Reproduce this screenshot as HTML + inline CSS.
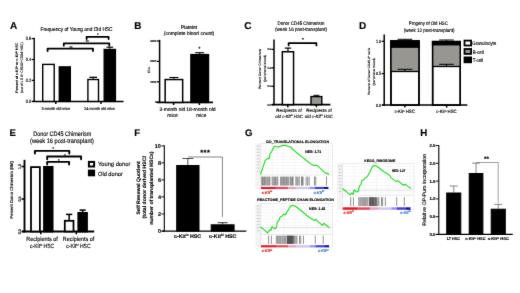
<!DOCTYPE html>
<html><head><meta charset="utf-8"><title>Figure</title>
<style>
html,body{margin:0;padding:0;background:#fff;}
body{width:520px;height:293px;overflow:hidden;font-family:"Liberation Sans",sans-serif;}
svg{display:block;}
</style></head><body>
<svg width="520" height="293" viewBox="0 0 520 293" font-family="Liberation Sans, sans-serif" text-rendering="geometricPrecision">
<defs><filter id="soft" filterUnits="userSpaceOnUse" x="0" y="0" width="520" height="293" color-interpolation-filters="sRGB"><feConvolveMatrix order="3" kernelMatrix="0.0052 0.0619 0.0052 0.0619 0.7314 0.0619 0.0052 0.0619 0.0052" divisor="1" edgeMode="duplicate" preserveAlpha="false"/></filter></defs>
<rect x="0" y="0" width="520" height="293" fill="#fff"/>
<g filter="url(#soft)">
<rect x="0" y="0" width="520" height="293" fill="#fff"/>
<text x="10" y="29.2" font-size="10" text-anchor="start" font-weight="bold" fill="#000" stroke="#000" stroke-width="0.14" >A</text>
<text x="76.5" y="30.6" font-size="5.6" text-anchor="middle" font-weight="normal" fill="#000" textLength="72" lengthAdjust="spacingAndGlyphs" stroke="#000" stroke-width="0.14" >Frequency of Young and Old HSC</text>
<line x1="34.2" y1="37.8" x2="34.2" y2="102.10000000000001" stroke="#000" stroke-width="1.4" stroke-linecap="butt"/>
<line x1="31.700000000000006" y1="38.6" x2="34.2" y2="38.6" stroke="#000" stroke-width="1.19" stroke-linecap="butt"/>
<text x="31.300000000000008" y="40.328" font-size="4.8" text-anchor="end" font-weight="normal" fill="#000" textLength="5.6" lengthAdjust="spacingAndGlyphs" stroke="#000" stroke-width="0.14" >0.6</text>
<line x1="31.700000000000006" y1="59.5" x2="34.2" y2="59.5" stroke="#000" stroke-width="1.19" stroke-linecap="butt"/>
<text x="31.300000000000008" y="61.228" font-size="4.8" text-anchor="end" font-weight="normal" fill="#000" textLength="5.6" lengthAdjust="spacingAndGlyphs" stroke="#000" stroke-width="0.14" >0.4</text>
<line x1="31.700000000000006" y1="80.4" x2="34.2" y2="80.4" stroke="#000" stroke-width="1.19" stroke-linecap="butt"/>
<text x="31.300000000000008" y="82.128" font-size="4.8" text-anchor="end" font-weight="normal" fill="#000" textLength="5.6" lengthAdjust="spacingAndGlyphs" stroke="#000" stroke-width="0.14" >0.2</text>
<line x1="31.700000000000006" y1="101.4" x2="34.2" y2="101.4" stroke="#000" stroke-width="1.19" stroke-linecap="butt"/>
<text x="31.300000000000008" y="103.128" font-size="4.8" text-anchor="end" font-weight="normal" fill="#000" textLength="5.6" lengthAdjust="spacingAndGlyphs" stroke="#000" stroke-width="0.14" >0.0</text>
<line x1="32.4" y1="101.4" x2="123.5" y2="101.4" stroke="#000" stroke-width="1.5" stroke-linecap="butt"/>
<line x1="55.8" y1="101.4" x2="55.8" y2="104.0" stroke="#000" stroke-width="1.5" stroke-linecap="butt"/>
<line x1="101" y1="101.4" x2="101" y2="104.0" stroke="#000" stroke-width="1.5" stroke-linecap="butt"/>
<rect x="42.7" y="64.4" width="11.499999999999998" height="37.0" fill="#fff" stroke="#000" stroke-width="1.4"/>
<rect x="59.300000000000004" y="66.9" width="10.999999999999998" height="34.5" fill="#000" stroke="#000" stroke-width="1.4"/>
<line x1="93.2" y1="77.3" x2="93.2" y2="78.8" stroke="#000" stroke-width="1.3" stroke-linecap="butt"/>
<line x1="89.4" y1="77.3" x2="97.0" y2="77.3" stroke="#000" stroke-width="1.3" stroke-linecap="butt"/>
<rect x="87.9" y="79.5" width="10.6" height="21.90000000000001" fill="#fff" stroke="#000" stroke-width="1.4"/>
<line x1="109.8" y1="47.2" x2="109.8" y2="48.8" stroke="#000" stroke-width="1.2" stroke-linecap="butt"/>
<line x1="106.5" y1="47.2" x2="113.1" y2="47.2" stroke="#000" stroke-width="1.2" stroke-linecap="butt"/>
<rect x="104.2" y="49.5" width="11.199999999999994" height="51.900000000000006" fill="#000" stroke="#000" stroke-width="1.4"/>
<path d="M47.6 51.0 L47.6 48.6 L93.0 48.6 L93.0 51.0" fill="none" stroke="#000" stroke-width="1.8" stroke-linejoin="round" stroke-linecap="round"/>
<path d="M63.8 45.699999999999996 L63.8 43.3 L109.3 43.3 L109.3 45.699999999999996" fill="none" stroke="#000" stroke-width="1.8" stroke-linejoin="round" stroke-linecap="round"/>
<path d="M86.6 39.099999999999994 L86.6 36.8 L108.6 36.8 L108.6 39.099999999999994" fill="none" stroke="#000" stroke-width="1.8" stroke-linejoin="round" stroke-linecap="round"/>
<text x="71.1" y="48.6" font-size="3.8" text-anchor="middle" font-weight="bold" fill="#000" stroke="#000" stroke-width="0.14" >**</text>
<text x="87.3" y="42.9" font-size="3.8" text-anchor="middle" font-weight="bold" fill="#000" stroke="#000" stroke-width="0.14" >**</text>
<text x="97.8" y="35.9" font-size="3.8" text-anchor="middle" font-weight="bold" fill="#000" stroke="#000" stroke-width="0.14" >*</text>
<text x="55.8" y="109.6" font-size="4" text-anchor="middle" font-weight="normal" fill="#000" textLength="28.8" lengthAdjust="spacingAndGlyphs" stroke="#000" stroke-width="0.14" >3-month old mice</text>
<text x="99.5" y="109.6" font-size="4" text-anchor="middle" font-weight="normal" fill="#000" textLength="30.8" lengthAdjust="spacingAndGlyphs" stroke="#000" stroke-width="0.14" >24-month old mice</text>
<text x="17.8" y="67.6" font-size="3.6" text-anchor="middle" font-weight="normal" fill="#000" textLength="50.3" lengthAdjust="spacingAndGlyphs" transform="rotate(-90 17.8 67.6)" stroke="#000" stroke-width="0.14" >Percent of c-Kit<tspan font-size="2.2" dy="-1">lo</tspan><tspan dy="1"> or c-Kit</tspan><tspan font-size="2.2" dy="-1">hi</tspan><tspan dy="1"> HSC</tspan></text>
<text x="22.8" y="67.6" font-size="3.6" text-anchor="middle" font-weight="normal" fill="#000" textLength="50.3" lengthAdjust="spacingAndGlyphs" transform="rotate(-90 22.8 67.6)" stroke="#000" stroke-width="0.14" >(out of L S K<tspan font-size="2.2" dy="-1">+</tspan><tspan dy="1"> CD150</tspan><tspan font-size="2.2" dy="-1">+</tspan><tspan dy="1"> CD34</tspan><tspan font-size="2.2" dy="-1">-</tspan><tspan dy="1"> HSC)</tspan></text>
<text x="134.3" y="29.1" font-size="10" text-anchor="start" font-weight="bold" fill="#000" stroke="#000" stroke-width="0.14" >B</text>
<text x="189" y="29" font-size="5" text-anchor="middle" font-weight="normal" fill="#000" textLength="16.5" lengthAdjust="spacingAndGlyphs" stroke="#000" stroke-width="0.14" >Platelet</text>
<text x="189" y="34.8" font-size="5" text-anchor="middle" font-weight="normal" fill="#000" textLength="50.5" lengthAdjust="spacingAndGlyphs" stroke="#000" stroke-width="0.14" >(complete blood count)</text>
<line x1="159.6" y1="39.85" x2="159.6" y2="103.15" stroke="#000" stroke-width="1.5" stroke-linecap="butt"/>
<line x1="156.85" y1="41.0" x2="159.6" y2="41.0" stroke="#000" stroke-width="1.275" stroke-linecap="butt"/>
<text x="156.45" y="42.008" font-size="2.8" text-anchor="end" font-weight="bold" fill="#000" stroke="#000" stroke-width="0.14" >3000</text>
<line x1="156.85" y1="61.4" x2="159.6" y2="61.4" stroke="#000" stroke-width="1.275" stroke-linecap="butt"/>
<text x="156.45" y="62.408" font-size="2.8" text-anchor="end" font-weight="bold" fill="#000" stroke="#000" stroke-width="0.14" >2000</text>
<line x1="156.85" y1="81.8" x2="159.6" y2="81.8" stroke="#000" stroke-width="1.275" stroke-linecap="butt"/>
<text x="156.45" y="82.80799999999999" font-size="2.8" text-anchor="end" font-weight="bold" fill="#000" stroke="#000" stroke-width="0.14" >1000</text>
<line x1="156.85" y1="102.3" x2="159.6" y2="102.3" stroke="#000" stroke-width="1.275" stroke-linecap="butt"/>
<text x="156.45" y="103.30799999999999" font-size="2.8" text-anchor="end" font-weight="bold" fill="#000" stroke="#000" stroke-width="0.14" >0</text>
<line x1="156.6" y1="102.4" x2="213" y2="102.4" stroke="#000" stroke-width="1.6" stroke-linecap="butt"/>
<line x1="173.6" y1="102.4" x2="173.6" y2="105.0" stroke="#000" stroke-width="1.5" stroke-linecap="butt"/>
<line x1="199.4" y1="102.4" x2="199.4" y2="105.0" stroke="#000" stroke-width="1.5" stroke-linecap="butt"/>
<line x1="173.9" y1="77.5" x2="173.9" y2="78.8" stroke="#000" stroke-width="1.1" stroke-linecap="butt"/>
<line x1="169.4" y1="77.5" x2="178.4" y2="77.5" stroke="#000" stroke-width="1.1" stroke-linecap="butt"/>
<rect x="165.15" y="79.55" width="17.5" height="22.85000000000001" fill="#fff" stroke="#000" stroke-width="1.5"/>
<line x1="199.7" y1="52.7" x2="199.7" y2="53.9" stroke="#000" stroke-width="1.1" stroke-linecap="butt"/>
<line x1="195.2" y1="52.7" x2="204.2" y2="52.7" stroke="#000" stroke-width="1.1" stroke-linecap="butt"/>
<rect x="190.95" y="54.65" width="17.5" height="47.75000000000001" fill="#000" stroke="#000" stroke-width="1.5"/>
<text x="199.4" y="50.2" font-size="4.6" text-anchor="middle" font-weight="bold" fill="#000" stroke="#000" stroke-width="0.14" >*</text>
<text x="172.3" y="110.7" font-size="5" text-anchor="middle" font-weight="normal" fill="#000" textLength="25.8" lengthAdjust="spacingAndGlyphs" stroke="#000" stroke-width="0.14" >3-month old</text>
<text x="172.6" y="116.7" font-size="5" text-anchor="middle" font-weight="normal" fill="#000" textLength="10.5" lengthAdjust="spacingAndGlyphs" stroke="#000" stroke-width="0.14" >mice</text>
<text x="200.9" y="110.7" font-size="5" text-anchor="middle" font-weight="normal" fill="#000" textLength="29.5" lengthAdjust="spacingAndGlyphs" stroke="#000" stroke-width="0.14" >18-month old</text>
<text x="201.3" y="116.7" font-size="5" text-anchor="middle" font-weight="normal" fill="#000" textLength="10.2" lengthAdjust="spacingAndGlyphs" stroke="#000" stroke-width="0.14" >mice</text>
<text x="150.1" y="70" font-size="3.2" text-anchor="middle" font-weight="normal" fill="#000" transform="rotate(-90 150.1 70)" stroke="#000" stroke-width="0.14" >K/uL</text>
<text x="244.3" y="29.1" font-size="10" text-anchor="start" font-weight="bold" fill="#000" stroke="#000" stroke-width="0.14" >C</text>
<text x="301" y="24.6" font-size="5" text-anchor="middle" font-weight="normal" fill="#000" textLength="47" lengthAdjust="spacingAndGlyphs" stroke="#000" stroke-width="0.14" >Donor CD45 Chimerism</text>
<text x="301" y="30.8" font-size="5" text-anchor="middle" font-weight="normal" fill="#000" textLength="52" lengthAdjust="spacingAndGlyphs" stroke="#000" stroke-width="0.14" >(week 16 post-transplant)</text>
<line x1="274.0" y1="39.55" x2="274.0" y2="105.35" stroke="#000" stroke-width="1.5" stroke-linecap="butt"/>
<line x1="271.25" y1="49.4" x2="274.0" y2="49.4" stroke="#000" stroke-width="1.275" stroke-linecap="butt"/>
<text x="270.85" y="50.408" font-size="2.8" text-anchor="end" font-weight="bold" fill="#000" textLength="3.4" lengthAdjust="spacingAndGlyphs" stroke="#000" stroke-width="0.14" >0.6</text>
<line x1="271.25" y1="67.9" x2="274.0" y2="67.9" stroke="#000" stroke-width="1.275" stroke-linecap="butt"/>
<text x="270.85" y="68.908" font-size="2.8" text-anchor="end" font-weight="bold" fill="#000" textLength="3.4" lengthAdjust="spacingAndGlyphs" stroke="#000" stroke-width="0.14" >0.4</text>
<line x1="271.25" y1="86.3" x2="274.0" y2="86.3" stroke="#000" stroke-width="1.275" stroke-linecap="butt"/>
<text x="270.85" y="87.30799999999999" font-size="2.8" text-anchor="end" font-weight="bold" fill="#000" textLength="3.4" lengthAdjust="spacingAndGlyphs" stroke="#000" stroke-width="0.14" >0.2</text>
<line x1="271.25" y1="104.7" x2="274.0" y2="104.7" stroke="#000" stroke-width="1.275" stroke-linecap="butt"/>
<text x="270.85" y="105.708" font-size="2.8" text-anchor="end" font-weight="bold" fill="#000" textLength="3.4" lengthAdjust="spacingAndGlyphs" stroke="#000" stroke-width="0.14" >0.0</text>
<line x1="271.8" y1="104.6" x2="330.4" y2="104.6" stroke="#000" stroke-width="1.7" stroke-linecap="butt"/>
<line x1="287.8" y1="104.6" x2="287.8" y2="107.19999999999999" stroke="#000" stroke-width="1.5" stroke-linecap="butt"/>
<line x1="316.4" y1="104.6" x2="316.4" y2="107.19999999999999" stroke="#000" stroke-width="1.5" stroke-linecap="butt"/>
<line x1="287.95000000000005" y1="48.1" x2="287.95000000000005" y2="51.0" stroke="#000" stroke-width="1.2" stroke-linecap="butt"/>
<line x1="284.75000000000006" y1="48.1" x2="291.15000000000003" y2="48.1" stroke="#000" stroke-width="1.2" stroke-linecap="butt"/>
<rect x="282.35" y="51.75" width="11.199999999999989" height="52.849999999999994" fill="#fff" stroke="#000" stroke-width="1.5"/>
<line x1="316.4" y1="95.3" x2="316.4" y2="95.9" stroke="#000" stroke-width="1.0" stroke-linecap="butt"/>
<line x1="313.4" y1="95.3" x2="319.4" y2="95.3" stroke="#000" stroke-width="1.0" stroke-linecap="butt"/>
<rect x="311.0" y="96.60000000000001" width="10.799999999999988" height="7.9999999999999885" fill="#989690" stroke="#000" stroke-width="1.4"/>
<path d="M288.6 45.4 L288.6 43.1 L316.4 43.1 L316.4 45.4" fill="none" stroke="#000" stroke-width="1.7" stroke-linejoin="round" stroke-linecap="round"/>
<text x="302.8" y="41.0" font-size="4.4" text-anchor="middle" font-weight="bold" fill="#000" stroke="#000" stroke-width="0.14" >*</text>
<text x="289.0" y="112" font-size="4.6" text-anchor="middle" font-weight="normal" fill="#000" textLength="25.3" lengthAdjust="spacingAndGlyphs" stroke="#000" stroke-width="0.14" >Recipients of</text>
<text x="289.1" y="117.8" font-size="4.6" text-anchor="middle" font-weight="normal" fill="#000" textLength="27.7" lengthAdjust="spacingAndGlyphs" stroke="#000" stroke-width="0.14" font-style="italic">old c-Kit<tspan font-size="2.6" dy="-1.4">lo</tspan><tspan dy="1.4"> HSC</tspan></text>
<text x="319.0" y="112" font-size="4.6" text-anchor="middle" font-weight="normal" fill="#000" textLength="25.3" lengthAdjust="spacingAndGlyphs" stroke="#000" stroke-width="0.14" >Recipients of</text>
<text x="318.9" y="117.8" font-size="4.6" text-anchor="middle" font-weight="normal" fill="#000" textLength="28.2" lengthAdjust="spacingAndGlyphs" stroke="#000" stroke-width="0.14" font-style="italic">old c-Kit<tspan font-size="2.6" dy="-1.4">hi</tspan><tspan dy="1.4"> HSC</tspan></text>
<text x="261.1" y="69" font-size="3.3" text-anchor="middle" font-weight="normal" fill="#000" textLength="40" lengthAdjust="spacingAndGlyphs" transform="rotate(-90 261.1 69)" stroke="#000" stroke-width="0.14" >Percent Donor Chimerism</text>
<text x="265.9" y="68.3" font-size="3.3" text-anchor="middle" font-weight="normal" fill="#000" textLength="27" lengthAdjust="spacingAndGlyphs" transform="rotate(-90 265.9 68.3)" stroke="#000" stroke-width="0.14" >(peripheral blood)</text>
<text x="358.9" y="29.3" font-size="10" text-anchor="start" font-weight="bold" fill="#000" stroke="#000" stroke-width="0.14" >D</text>
<text x="428.3" y="25.4" font-size="5.0" text-anchor="middle" font-weight="normal" fill="#000" textLength="38.9" lengthAdjust="spacingAndGlyphs" stroke="#000" stroke-width="0.14" >Progeny of Old HSC</text>
<text x="429.2" y="32" font-size="5.0" text-anchor="middle" font-weight="normal" fill="#000" textLength="50.8" lengthAdjust="spacingAndGlyphs" stroke="#000" stroke-width="0.14" >(week 12 post-transplant)</text>
<line x1="384.2" y1="34.45" x2="384.2" y2="105.75" stroke="#000" stroke-width="1.5" stroke-linecap="butt"/>
<line x1="381.65" y1="41.3" x2="384.2" y2="41.3" stroke="#000" stroke-width="1.275" stroke-linecap="butt"/>
<text x="381.25" y="42.955999999999996" font-size="4.6" text-anchor="end" font-weight="normal" fill="#000" textLength="5.3" lengthAdjust="spacingAndGlyphs" stroke="#000" stroke-width="0.14" >1.0</text>
<line x1="381.65" y1="73.6" x2="384.2" y2="73.6" stroke="#000" stroke-width="1.275" stroke-linecap="butt"/>
<text x="381.25" y="75.256" font-size="4.6" text-anchor="end" font-weight="normal" fill="#000" textLength="5.3" lengthAdjust="spacingAndGlyphs" stroke="#000" stroke-width="0.14" >0.5</text>
<line x1="381.65" y1="105" x2="384.2" y2="105" stroke="#000" stroke-width="1.275" stroke-linecap="butt"/>
<text x="381.25" y="106.656" font-size="4.6" text-anchor="end" font-weight="normal" fill="#000" textLength="5.3" lengthAdjust="spacingAndGlyphs" stroke="#000" stroke-width="0.14" >0.0</text>
<line x1="382.2" y1="105" x2="467.3" y2="105" stroke="#000" stroke-width="1.6" stroke-linecap="butt"/>
<line x1="404.9" y1="105" x2="404.9" y2="107.6" stroke="#000" stroke-width="1.5" stroke-linecap="butt"/>
<line x1="446.6" y1="105" x2="446.6" y2="107.6" stroke="#000" stroke-width="1.5" stroke-linecap="butt"/>
<rect x="390.95" y="41.05" width="28.0" height="63.95" fill="#fff" stroke="#000" stroke-width="1.5"/>
<rect x="390.95" y="47.9" width="28.0" height="23.6" fill="#989690" stroke="none" stroke-width="0"/>
<rect x="390.95" y="41.05" width="28.0" height="6.100000000000001" fill="#000" stroke="#000" stroke-width="1.5"/>
<line x1="390.2" y1="71.5" x2="419.7" y2="71.5" stroke="#000" stroke-width="1.3" stroke-linecap="butt"/>
<rect x="390.95" y="41.05" width="28.0" height="63.95" fill="none" stroke="#000" stroke-width="1.5"/>
<line x1="404.95" y1="69.3" x2="404.95" y2="71.5" stroke="#000" stroke-width="1.0" stroke-linecap="butt"/>
<line x1="397.65" y1="69.3" x2="412.25" y2="69.3" stroke="#000" stroke-width="1.0" stroke-linecap="butt"/>
<line x1="404.95" y1="39.3" x2="404.95" y2="40.3" stroke="#000" stroke-width="1.0" stroke-linecap="butt"/>
<line x1="397.65" y1="39.3" x2="412.25" y2="39.3" stroke="#000" stroke-width="1.0" stroke-linecap="butt"/>
<rect x="432.65" y="41.65" width="27.600000000000023" height="63.349999999999994" fill="#fff" stroke="#000" stroke-width="1.5"/>
<rect x="432.65" y="45.6" width="27.600000000000023" height="20.9" fill="#989690" stroke="none" stroke-width="0"/>
<rect x="432.65" y="41.65" width="27.600000000000023" height="3.200000000000003" fill="#000" stroke="#000" stroke-width="1.5"/>
<line x1="431.9" y1="66.5" x2="461.0" y2="66.5" stroke="#000" stroke-width="1.3" stroke-linecap="butt"/>
<rect x="432.65" y="41.65" width="27.600000000000023" height="63.349999999999994" fill="none" stroke="#000" stroke-width="1.5"/>
<line x1="446.45" y1="64.3" x2="446.45" y2="66.5" stroke="#000" stroke-width="1.0" stroke-linecap="butt"/>
<line x1="439.15" y1="64.3" x2="453.75" y2="64.3" stroke="#000" stroke-width="1.0" stroke-linecap="butt"/>
<line x1="446.45" y1="40.0" x2="446.45" y2="40.9" stroke="#000" stroke-width="1.0" stroke-linecap="butt"/>
<line x1="439.15" y1="40.0" x2="453.75" y2="40.0" stroke="#000" stroke-width="1.0" stroke-linecap="butt"/>
<rect x="464.5" y="40.6" width="6.6" height="4.9" fill="#fff" stroke="#000" stroke-width="1.8"/>
<text x="472.2" y="44.7" font-size="5.0" text-anchor="start" font-weight="normal" fill="#000" textLength="24" lengthAdjust="spacingAndGlyphs" stroke="#000" stroke-width="0.14" >Granulocyte</text>
<rect x="464.5" y="49.0" width="6.6" height="4.9" fill="#989690" stroke="#000" stroke-width="1.8"/>
<text x="472.7" y="53.9" font-size="5.0" text-anchor="start" font-weight="normal" fill="#000" textLength="11.0" lengthAdjust="spacingAndGlyphs" stroke="#000" stroke-width="0.14" >B-cell</text>
<rect x="464.5" y="57.400000000000006" width="6.6" height="4.9" fill="#000" stroke="#000" stroke-width="1.8"/>
<text x="472.7" y="62.1" font-size="5.0" text-anchor="start" font-weight="normal" fill="#000" textLength="10.4" lengthAdjust="spacingAndGlyphs" stroke="#000" stroke-width="0.14" >T-cell</text>
<text x="404.6" y="112.9" font-size="4.8" text-anchor="middle" font-weight="normal" fill="#000" textLength="20.3" lengthAdjust="spacingAndGlyphs" stroke="#000" stroke-width="0.14" >c-Kit<tspan font-size="2.4" dy="-1.3">lo</tspan><tspan dy="1.3"> HSC</tspan></text>
<text x="446.4" y="112.9" font-size="4.8" text-anchor="middle" font-weight="normal" fill="#000" textLength="20.3" lengthAdjust="spacingAndGlyphs" stroke="#000" stroke-width="0.14" >c-Kit<tspan font-size="2.4" dy="-1.3">hi</tspan><tspan dy="1.3"> HSC</tspan></text>
<text x="370.2" y="71.4" font-size="3.1" text-anchor="middle" font-weight="normal" fill="#000" textLength="47" lengthAdjust="spacingAndGlyphs" transform="rotate(-90 370.2 71.4)" stroke="#000" stroke-width="0.14" >Percent of Donor CD45.2<tspan font-size="2" dy="-0.8">+</tspan><tspan dy="0.8"> cells</tspan></text>
<text x="374.6" y="71.8" font-size="3.1" text-anchor="middle" font-weight="normal" fill="#000" textLength="27.2" lengthAdjust="spacingAndGlyphs" transform="rotate(-90 374.6 71.8)" stroke="#000" stroke-width="0.14" >(peripheral blood)</text>
<text x="9.6" y="136.2" font-size="9.6" text-anchor="start" font-weight="bold" fill="#000" stroke="#000" stroke-width="0.14" >E</text>
<text x="62.2" y="135.6" font-size="6.4" text-anchor="middle" font-weight="normal" fill="#000" textLength="58" lengthAdjust="spacingAndGlyphs" stroke="#000" stroke-width="0.14" >Donor CD45 Chimerism</text>
<text x="62" y="142.8" font-size="6.4" text-anchor="middle" font-weight="normal" fill="#000" textLength="64" lengthAdjust="spacingAndGlyphs" stroke="#000" stroke-width="0.14" >(week 16 post-transplant)</text>
<line x1="24.5" y1="159.85000000000002" x2="24.5" y2="232.45" stroke="#000" stroke-width="1.9" stroke-linecap="butt"/>
<line x1="21.55" y1="166.5" x2="24.5" y2="166.5" stroke="#000" stroke-width="1.615" stroke-linecap="butt"/>
<line x1="21.55" y1="199" x2="24.5" y2="199" stroke="#000" stroke-width="1.615" stroke-linecap="butt"/>
<line x1="21.55" y1="231.5" x2="24.5" y2="231.5" stroke="#000" stroke-width="1.615" stroke-linecap="butt"/>
<text x="20.9" y="166.4" font-size="3.9" text-anchor="middle" font-weight="normal" fill="#000" textLength="5" lengthAdjust="spacingAndGlyphs" transform="rotate(-90 20.9 166.4)" stroke="#000" stroke-width="0.14" >1.0</text>
<text x="20.9" y="199" font-size="3.9" text-anchor="middle" font-weight="normal" fill="#000" textLength="5" lengthAdjust="spacingAndGlyphs" transform="rotate(-90 20.9 199)" stroke="#000" stroke-width="0.14" >0.5</text>
<text x="20.9" y="231.7" font-size="3.9" text-anchor="middle" font-weight="normal" fill="#000" textLength="5" lengthAdjust="spacingAndGlyphs" transform="rotate(-90 20.9 231.7)" stroke="#000" stroke-width="0.14" >0.0</text>
<line x1="22.2" y1="231.5" x2="94.2" y2="231.5" stroke="#000" stroke-width="2.0" stroke-linecap="butt"/>
<line x1="40.8" y1="231.5" x2="40.8" y2="234.3" stroke="#000" stroke-width="1.6" stroke-linecap="butt"/>
<line x1="76.3" y1="231.5" x2="76.3" y2="234.3" stroke="#000" stroke-width="1.6" stroke-linecap="butt"/>
<rect x="31.0" y="167.1" width="8.899999999999995" height="64.4" fill="#fff" stroke="#000" stroke-width="1.8"/>
<rect x="44.0" y="166.9" width="8.599999999999998" height="64.6" fill="#000" stroke="#000" stroke-width="1.8"/>
<line x1="69.15" y1="214.4" x2="69.15" y2="219.9" stroke="#000" stroke-width="1.5" stroke-linecap="butt"/>
<line x1="66.05000000000001" y1="214.4" x2="72.25" y2="214.4" stroke="#000" stroke-width="1.5" stroke-linecap="butt"/>
<rect x="64.8" y="220.8" width="8.700000000000006" height="10.699999999999994" fill="#fff" stroke="#000" stroke-width="1.8"/>
<line x1="82.65" y1="210.1" x2="82.65" y2="212" stroke="#000" stroke-width="1.5" stroke-linecap="butt"/>
<line x1="79.55000000000001" y1="210.1" x2="85.75" y2="210.1" stroke="#000" stroke-width="1.5" stroke-linecap="butt"/>
<rect x="78.30000000000001" y="212.9" width="8.7" height="18.6" fill="#000" stroke="#000" stroke-width="1.8"/>
<path d="M34.9 153.6 L34.9 150.9 L69.3 150.9 L69.3 153.6" fill="none" stroke="#000" stroke-width="1.9" stroke-linejoin="round" stroke-linecap="round"/>
<path d="M47.2 159.3 L47.2 156.5 L81.1 156.5 L81.1 159.3" fill="none" stroke="#000" stroke-width="1.9" stroke-linejoin="round" stroke-linecap="round"/>
<path d="M47.2 164.6 L47.2 161.9 L69.1 161.9 L69.1 164.6" fill="none" stroke="#000" stroke-width="1.9" stroke-linejoin="round" stroke-linecap="round"/>
<text x="53.2" y="150.0" font-size="4" text-anchor="middle" font-weight="bold" fill="#000" stroke="#000" stroke-width="0.14" >*</text>
<text x="65.1" y="156.6" font-size="4" text-anchor="middle" font-weight="bold" fill="#000" stroke="#000" stroke-width="0.14" >*</text>
<text x="58.8" y="161.7" font-size="4" text-anchor="middle" font-weight="bold" fill="#000" stroke="#000" stroke-width="0.14" >*</text>
<rect x="88.9" y="161.9" width="5.2" height="4.6" fill="#fff" stroke="#000" stroke-width="2.0"/>
<rect x="88.9" y="170.6" width="5.2" height="4.7" fill="#000" stroke="#000" stroke-width="2.0"/>
<text x="98" y="166.3" font-size="6" text-anchor="start" font-weight="normal" fill="#000" textLength="32.3" lengthAdjust="spacingAndGlyphs" stroke="#000" stroke-width="0.14" >Young donor</text>
<text x="98" y="175.6" font-size="6" text-anchor="start" font-weight="normal" fill="#000" textLength="24.8" lengthAdjust="spacingAndGlyphs" stroke="#000" stroke-width="0.14" >Old donor</text>
<text x="42.1" y="240.8" font-size="6" text-anchor="middle" font-weight="normal" fill="#000" textLength="31.5" lengthAdjust="spacingAndGlyphs" stroke="#000" stroke-width="0.14" >Recipients of</text>
<text x="42.1" y="247.6" font-size="6" text-anchor="middle" font-weight="normal" fill="#000" textLength="24" lengthAdjust="spacingAndGlyphs" stroke="#000" stroke-width="0.14" >c-Kit<tspan font-size="3.2" dy="-1.8">lo</tspan><tspan dy="1.8"> HSC</tspan></text>
<text x="78.6" y="240.8" font-size="6" text-anchor="middle" font-weight="normal" fill="#000" textLength="31.5" lengthAdjust="spacingAndGlyphs" stroke="#000" stroke-width="0.14" >Recipients of</text>
<text x="78.5" y="247.6" font-size="6" text-anchor="middle" font-weight="normal" fill="#000" textLength="24.3" lengthAdjust="spacingAndGlyphs" stroke="#000" stroke-width="0.14" >c-Kit<tspan font-size="3.2" dy="-1.8">hi</tspan><tspan dy="1.8"> HSC</tspan></text>
<text x="13.5" y="189.8" font-size="4.2" text-anchor="middle" font-weight="normal" fill="#000" textLength="57.2" lengthAdjust="spacingAndGlyphs" transform="rotate(-90 13.5 189.8)" stroke="#000" stroke-width="0.14" >Percent Donor Chimerism (BM)</text>
<text x="134.2" y="135.9" font-size="9.6" text-anchor="start" font-weight="bold" fill="#000" stroke="#000" stroke-width="0.14" >F</text>
<line x1="164.3" y1="145.25" x2="164.3" y2="231.65" stroke="#000" stroke-width="1.1" stroke-linecap="butt"/>
<line x1="161.35" y1="145.9" x2="164.3" y2="145.9" stroke="#000" stroke-width="0.935" stroke-linecap="butt"/>
<text x="160.95" y="147.88" font-size="5.5" text-anchor="end" font-weight="bold" fill="#000" stroke="#000" stroke-width="0.14" >10</text>
<line x1="161.35" y1="162.9" x2="164.3" y2="162.9" stroke="#000" stroke-width="0.935" stroke-linecap="butt"/>
<text x="160.95" y="164.88" font-size="5.5" text-anchor="end" font-weight="bold" fill="#000" stroke="#000" stroke-width="0.14" >8</text>
<line x1="161.35" y1="179.9" x2="164.3" y2="179.9" stroke="#000" stroke-width="0.935" stroke-linecap="butt"/>
<text x="160.95" y="181.88" font-size="5.5" text-anchor="end" font-weight="bold" fill="#000" stroke="#000" stroke-width="0.14" >6</text>
<line x1="161.35" y1="196.9" x2="164.3" y2="196.9" stroke="#000" stroke-width="0.935" stroke-linecap="butt"/>
<text x="160.95" y="198.88" font-size="5.5" text-anchor="end" font-weight="bold" fill="#000" stroke="#000" stroke-width="0.14" >4</text>
<line x1="161.35" y1="214.0" x2="164.3" y2="214.0" stroke="#000" stroke-width="0.935" stroke-linecap="butt"/>
<text x="160.95" y="215.98" font-size="5.5" text-anchor="end" font-weight="bold" fill="#000" stroke="#000" stroke-width="0.14" >2</text>
<line x1="161.35" y1="231.1" x2="164.3" y2="231.1" stroke="#000" stroke-width="0.935" stroke-linecap="butt"/>
<text x="160.95" y="233.07999999999998" font-size="5.5" text-anchor="end" font-weight="bold" fill="#000" stroke="#000" stroke-width="0.14" >0</text>
<line x1="161.8" y1="231.1" x2="246.3" y2="231.1" stroke="#000" stroke-width="1.25" stroke-linecap="butt"/>
<line x1="187.85" y1="158.5" x2="187.85" y2="165" stroke="#000" stroke-width="0.7" stroke-linecap="butt"/>
<line x1="182.35" y1="158.5" x2="193.35" y2="158.5" stroke="#000" stroke-width="0.7" stroke-linecap="butt"/>
<rect x="176.7" y="165.5" width="22.30000000000001" height="65.6" fill="#000" stroke="#000" stroke-width="1.0"/>
<line x1="222.64999999999998" y1="222.7" x2="222.64999999999998" y2="224.3" stroke="#000" stroke-width="0.8" stroke-linecap="butt"/>
<line x1="217.64999999999998" y1="222.7" x2="227.64999999999998" y2="222.7" stroke="#000" stroke-width="0.8" stroke-linecap="butt"/>
<rect x="211.2" y="224.8" width="22.900000000000006" height="6.299999999999983" fill="#000" stroke="#000" stroke-width="1.0"/>
<path d="M188.2 157.0 L222.4 157.0 L222.4 217" fill="none" stroke="#222" stroke-width="0.55"/>
<text x="205.3" y="155.2" font-size="7.6" text-anchor="middle" font-weight="bold" fill="#000" stroke="#000" stroke-width="0.14" letter-spacing="0.4">***</text>
<text x="187.6" y="237.9" font-size="5.2" text-anchor="middle" font-weight="bold" fill="#000" textLength="27.2" lengthAdjust="spacingAndGlyphs" stroke="#000" stroke-width="0.14" >c-Kit<tspan font-size="3" dy="-1.7">lo</tspan><tspan dy="1.7"> HSC</tspan></text>
<text x="222.8" y="237.9" font-size="5.2" text-anchor="middle" font-weight="bold" fill="#000" textLength="27.4" lengthAdjust="spacingAndGlyphs" stroke="#000" stroke-width="0.14" >c-Kit<tspan font-size="3" dy="-1.7">hi</tspan><tspan dy="1.7"> HSC</tspan></text>
<text x="140.2" y="187.9" font-size="5.0" text-anchor="middle" font-weight="bold" fill="#000" textLength="53.4" lengthAdjust="spacingAndGlyphs" transform="rotate(-90 140.2 187.9)" stroke="#000" stroke-width="0.14" >Self Renewal Quotient</text>
<text x="146.3" y="187.3" font-size="5.0" text-anchor="middle" font-weight="bold" fill="#000" textLength="62.4" lengthAdjust="spacingAndGlyphs" transform="rotate(-90 146.3 187.3)" stroke="#000" stroke-width="0.14" >(total donor derived HSC/</text>
<text x="152.5" y="188.0" font-size="5.0" text-anchor="middle" font-weight="bold" fill="#000" textLength="73.1" lengthAdjust="spacingAndGlyphs" transform="rotate(-90 152.5 188.0)" stroke="#000" stroke-width="0.14" >number of transplanted HSCs)</text>
<text x="245.0" y="135.9" font-size="9.6" text-anchor="start" font-weight="bold" fill="#000" stroke="#000" stroke-width="0.14" >G</text>
<rect x="255.4" y="143.2" width="5.6" height="45.800000000000004" fill="#f3f3f3" stroke="none" stroke-width="0"/>
<rect x="261" y="143.6" width="71.60000000000002" height="45.400000000000006" fill="#fff" stroke="#cfcfcf" stroke-width="0.4"/>
<line x1="261" y1="175.0" x2="332.6" y2="175.0" stroke="#c4c4c4" stroke-width="0.4" stroke-linecap="butt"/>
<line x1="261" y1="146.74" x2="332.6" y2="146.74" stroke="#e0e0e0" stroke-width="0.25" stroke-linecap="butt"/>
<line x1="256.8" y1="146.14000000000001" x2="259.8" y2="146.14000000000001" stroke="#aaa" stroke-width="0.5" stroke-linecap="butt"/>
<line x1="261" y1="149.88" x2="332.6" y2="149.88" stroke="#e0e0e0" stroke-width="0.25" stroke-linecap="butt"/>
<line x1="256.8" y1="149.28" x2="259.8" y2="149.28" stroke="#aaa" stroke-width="0.5" stroke-linecap="butt"/>
<line x1="261" y1="153.01999999999998" x2="332.6" y2="153.01999999999998" stroke="#e0e0e0" stroke-width="0.25" stroke-linecap="butt"/>
<line x1="256.8" y1="152.42" x2="259.8" y2="152.42" stroke="#aaa" stroke-width="0.5" stroke-linecap="butt"/>
<line x1="261" y1="156.16" x2="332.6" y2="156.16" stroke="#e0e0e0" stroke-width="0.25" stroke-linecap="butt"/>
<line x1="256.8" y1="155.56" x2="259.8" y2="155.56" stroke="#aaa" stroke-width="0.5" stroke-linecap="butt"/>
<line x1="261" y1="159.3" x2="332.6" y2="159.3" stroke="#e0e0e0" stroke-width="0.25" stroke-linecap="butt"/>
<line x1="256.8" y1="158.70000000000002" x2="259.8" y2="158.70000000000002" stroke="#aaa" stroke-width="0.5" stroke-linecap="butt"/>
<line x1="261" y1="162.44" x2="332.6" y2="162.44" stroke="#e0e0e0" stroke-width="0.25" stroke-linecap="butt"/>
<line x1="256.8" y1="161.84" x2="259.8" y2="161.84" stroke="#aaa" stroke-width="0.5" stroke-linecap="butt"/>
<line x1="261" y1="165.57999999999998" x2="332.6" y2="165.57999999999998" stroke="#e0e0e0" stroke-width="0.25" stroke-linecap="butt"/>
<line x1="256.8" y1="164.98" x2="259.8" y2="164.98" stroke="#aaa" stroke-width="0.5" stroke-linecap="butt"/>
<line x1="261" y1="168.72" x2="332.6" y2="168.72" stroke="#e0e0e0" stroke-width="0.25" stroke-linecap="butt"/>
<line x1="256.8" y1="168.12" x2="259.8" y2="168.12" stroke="#aaa" stroke-width="0.5" stroke-linecap="butt"/>
<line x1="261" y1="171.85999999999999" x2="332.6" y2="171.85999999999999" stroke="#e0e0e0" stroke-width="0.25" stroke-linecap="butt"/>
<line x1="256.8" y1="171.26" x2="259.8" y2="171.26" stroke="#aaa" stroke-width="0.5" stroke-linecap="butt"/>
<line x1="272.2166666666667" y1="143.6" x2="272.2166666666667" y2="175.0" stroke="#e2e2e2" stroke-width="0.25" stroke-linecap="butt"/>
<line x1="283.43333333333334" y1="143.6" x2="283.43333333333334" y2="175.0" stroke="#e2e2e2" stroke-width="0.25" stroke-linecap="butt"/>
<line x1="294.65" y1="143.6" x2="294.65" y2="175.0" stroke="#e2e2e2" stroke-width="0.25" stroke-linecap="butt"/>
<line x1="305.8666666666667" y1="143.6" x2="305.8666666666667" y2="175.0" stroke="#e2e2e2" stroke-width="0.25" stroke-linecap="butt"/>
<line x1="317.08333333333337" y1="143.6" x2="317.08333333333337" y2="175.0" stroke="#e2e2e2" stroke-width="0.25" stroke-linecap="butt"/>
<line x1="328.3" y1="143.6" x2="328.3" y2="175.0" stroke="#e2e2e2" stroke-width="0.25" stroke-linecap="butt"/>
<path d="M260.8 173.9 L261.9 170.4 L263.4 165.9 L265.1 160.7 L266.4 159.4 L268.1 158.1 L269.0 159.0 L269.9 154.2 L271.6 151.7 L273.5 147.5 L274.8 146.2 L276.8 146.7 L278.5 147.1 L280.3 146.2 L282.6 145.4 L285.2 145.4 L288.4 146.2 L291.0 147.5 L294.3 150.6 L298.2 154.0 L302.0 156.9 L306.8 160.7 L311.4 164.4 L313.3 165.3 L316.6 165.3 L318.5 166.6 L322.4 170.4 L325.6 173.4 L326.9 173.0 L328.6 174.3" fill="none" stroke="#20e020" stroke-width="1.15" stroke-linejoin="round" stroke-linecap="round"/>
<line x1="261.77" y1="176.6" x2="261.77" y2="185.60000000000002" stroke="#000" stroke-width="0.44" stroke-linecap="butt"/>
<line x1="262.53" y1="176.6" x2="262.53" y2="185.60000000000002" stroke="#000" stroke-width="0.44" stroke-linecap="butt"/>
<line x1="263.75" y1="176.6" x2="263.75" y2="185.60000000000002" stroke="#000" stroke-width="0.44" stroke-linecap="butt"/>
<line x1="264.37" y1="176.6" x2="264.37" y2="185.60000000000002" stroke="#000" stroke-width="0.44" stroke-linecap="butt"/>
<line x1="265.59" y1="176.6" x2="265.59" y2="185.60000000000002" stroke="#000" stroke-width="0.44" stroke-linecap="butt"/>
<line x1="266.81" y1="176.6" x2="266.81" y2="185.60000000000002" stroke="#000" stroke-width="0.44" stroke-linecap="butt"/>
<line x1="267.88" y1="176.6" x2="267.88" y2="185.60000000000002" stroke="#000" stroke-width="0.44" stroke-linecap="butt"/>
<line x1="268.95" y1="176.6" x2="268.95" y2="185.60000000000002" stroke="#000" stroke-width="0.44" stroke-linecap="butt"/>
<line x1="269.87" y1="176.6" x2="269.87" y2="185.60000000000002" stroke="#000" stroke-width="0.44" stroke-linecap="butt"/>
<line x1="272.17" y1="176.6" x2="272.17" y2="185.60000000000002" stroke="#000" stroke-width="0.44" stroke-linecap="butt"/>
<line x1="273.24" y1="176.6" x2="273.24" y2="185.60000000000002" stroke="#000" stroke-width="0.44" stroke-linecap="butt"/>
<line x1="274.46" y1="176.6" x2="274.46" y2="185.60000000000002" stroke="#000" stroke-width="0.44" stroke-linecap="butt"/>
<line x1="275.53" y1="176.6" x2="275.53" y2="185.60000000000002" stroke="#000" stroke-width="0.44" stroke-linecap="butt"/>
<line x1="276.75" y1="176.6" x2="276.75" y2="185.60000000000002" stroke="#000" stroke-width="0.44" stroke-linecap="butt"/>
<line x1="277.82" y1="176.6" x2="277.82" y2="185.60000000000002" stroke="#000" stroke-width="0.44" stroke-linecap="butt"/>
<line x1="280.58" y1="176.6" x2="280.58" y2="185.60000000000002" stroke="#000" stroke-width="0.44" stroke-linecap="butt"/>
<line x1="281.65" y1="176.6" x2="281.65" y2="185.60000000000002" stroke="#000" stroke-width="0.44" stroke-linecap="butt"/>
<line x1="282.72" y1="176.6" x2="282.72" y2="185.60000000000002" stroke="#000" stroke-width="0.44" stroke-linecap="butt"/>
<line x1="283.64" y1="176.6" x2="283.64" y2="185.60000000000002" stroke="#000" stroke-width="0.44" stroke-linecap="butt"/>
<line x1="284.71" y1="176.6" x2="284.71" y2="185.60000000000002" stroke="#000" stroke-width="0.44" stroke-linecap="butt"/>
<line x1="285.78" y1="176.6" x2="285.78" y2="185.60000000000002" stroke="#000" stroke-width="0.44" stroke-linecap="butt"/>
<line x1="286.7" y1="176.6" x2="286.7" y2="185.60000000000002" stroke="#000" stroke-width="0.44" stroke-linecap="butt"/>
<line x1="287.77" y1="176.6" x2="287.77" y2="185.60000000000002" stroke="#000" stroke-width="0.44" stroke-linecap="butt"/>
<line x1="288.84" y1="176.6" x2="288.84" y2="185.60000000000002" stroke="#000" stroke-width="0.44" stroke-linecap="butt"/>
<line x1="290.37" y1="176.6" x2="290.37" y2="185.60000000000002" stroke="#000" stroke-width="0.44" stroke-linecap="butt"/>
<line x1="291.29" y1="176.6" x2="291.29" y2="185.60000000000002" stroke="#000" stroke-width="0.44" stroke-linecap="butt"/>
<line x1="292.36" y1="176.6" x2="292.36" y2="185.60000000000002" stroke="#000" stroke-width="0.44" stroke-linecap="butt"/>
<line x1="293.12" y1="176.6" x2="293.12" y2="185.60000000000002" stroke="#000" stroke-width="0.44" stroke-linecap="butt"/>
<line x1="295.87" y1="176.6" x2="295.87" y2="185.60000000000002" stroke="#000" stroke-width="0.44" stroke-linecap="butt"/>
<line x1="296.94" y1="176.6" x2="296.94" y2="185.60000000000002" stroke="#000" stroke-width="0.44" stroke-linecap="butt"/>
<line x1="298.01" y1="176.6" x2="298.01" y2="185.60000000000002" stroke="#000" stroke-width="0.44" stroke-linecap="butt"/>
<line x1="299.24" y1="176.6" x2="299.24" y2="185.60000000000002" stroke="#000" stroke-width="0.44" stroke-linecap="butt"/>
<line x1="301.53" y1="176.6" x2="301.53" y2="185.60000000000002" stroke="#000" stroke-width="0.44" stroke-linecap="butt"/>
<line x1="302.3" y1="176.6" x2="302.3" y2="185.60000000000002" stroke="#000" stroke-width="0.44" stroke-linecap="butt"/>
<line x1="303.06" y1="176.6" x2="303.06" y2="185.60000000000002" stroke="#000" stroke-width="0.44" stroke-linecap="butt"/>
<line x1="306.12" y1="176.6" x2="306.12" y2="185.60000000000002" stroke="#000" stroke-width="0.44" stroke-linecap="butt"/>
<line x1="307.65" y1="176.6" x2="307.65" y2="185.60000000000002" stroke="#000" stroke-width="0.44" stroke-linecap="butt"/>
<line x1="309.18" y1="176.6" x2="309.18" y2="185.60000000000002" stroke="#000" stroke-width="0.44" stroke-linecap="butt"/>
<line x1="314.54" y1="176.6" x2="314.54" y2="185.60000000000002" stroke="#000" stroke-width="0.44" stroke-linecap="butt"/>
<line x1="315.76" y1="176.6" x2="315.76" y2="185.60000000000002" stroke="#000" stroke-width="0.44" stroke-linecap="butt"/>
<line x1="326.46" y1="176.6" x2="326.46" y2="185.60000000000002" stroke="#000" stroke-width="0.44" stroke-linecap="butt"/>
<rect x="261.00" y="186.9" width="14.91" height="2.10" fill="#e61c26"/>
<rect x="275.81" y="186.9" width="12.21" height="2.10" fill="#ea4a5c"/>
<rect x="287.92" y="186.9" width="8.18" height="2.10" fill="#f09cc0"/>
<rect x="296.00" y="186.9" width="13.56" height="2.10" fill="#cfc6f2"/>
<rect x="309.46" y="186.9" width="5.48" height="2.10" fill="#9a94f0"/>
<rect x="314.84" y="186.9" width="8.85" height="2.10" fill="#4a3ee0"/>
<rect x="323.59" y="186.9" width="4.81" height="2.10" fill="#1010b4"/>
<text x="261.8" y="193.5" font-size="4.0" text-anchor="start" font-weight="bold" fill="#e01010" textLength="10.4" lengthAdjust="spacingAndGlyphs" stroke="#e01010" stroke-width="0.14" font-style="italic">c-Kit<tspan font-size="2.6" dy="-1.4">lo</tspan></text>
<text x="313.8" y="193.5" font-size="4.0" text-anchor="start" font-weight="bold" fill="#1a78c8" textLength="10.4" lengthAdjust="spacingAndGlyphs" stroke="#1a78c8" stroke-width="0.14" font-style="italic">c-Kit<tspan font-size="2.6" dy="-1.4">hi</tspan></text>
<text x="297.5" y="142.6" font-size="3.7" text-anchor="middle" font-weight="bold" fill="#000" textLength="63" lengthAdjust="spacingAndGlyphs" stroke="#000" stroke-width="0.14" >GO_TRANSLATIONAL ELONGATION</text>
<text x="305.2" y="152.7" font-size="3.8" text-anchor="start" font-weight="bold" fill="#000" textLength="16" lengthAdjust="spacingAndGlyphs" stroke="#000" stroke-width="0.14" >NES: 1.71</text>
<rect x="337.2" y="163.0" width="5.6" height="46.800000000000004" fill="#f3f3f3" stroke="none" stroke-width="0"/>
<rect x="342.8" y="163.4" width="71.19999999999999" height="46.400000000000006" fill="#fff" stroke="#cfcfcf" stroke-width="0.4"/>
<line x1="342.8" y1="195.2" x2="414" y2="195.2" stroke="#c4c4c4" stroke-width="0.4" stroke-linecap="butt"/>
<line x1="342.8" y1="166.58" x2="414" y2="166.58" stroke="#e0e0e0" stroke-width="0.25" stroke-linecap="butt"/>
<line x1="338.6" y1="165.98000000000002" x2="341.6" y2="165.98000000000002" stroke="#aaa" stroke-width="0.5" stroke-linecap="butt"/>
<line x1="342.8" y1="169.76" x2="414" y2="169.76" stroke="#e0e0e0" stroke-width="0.25" stroke-linecap="butt"/>
<line x1="338.6" y1="169.16" x2="341.6" y2="169.16" stroke="#aaa" stroke-width="0.5" stroke-linecap="butt"/>
<line x1="342.8" y1="172.94" x2="414" y2="172.94" stroke="#e0e0e0" stroke-width="0.25" stroke-linecap="butt"/>
<line x1="338.6" y1="172.34" x2="341.6" y2="172.34" stroke="#aaa" stroke-width="0.5" stroke-linecap="butt"/>
<line x1="342.8" y1="176.12" x2="414" y2="176.12" stroke="#e0e0e0" stroke-width="0.25" stroke-linecap="butt"/>
<line x1="338.6" y1="175.52" x2="341.6" y2="175.52" stroke="#aaa" stroke-width="0.5" stroke-linecap="butt"/>
<line x1="342.8" y1="179.3" x2="414" y2="179.3" stroke="#e0e0e0" stroke-width="0.25" stroke-linecap="butt"/>
<line x1="338.6" y1="178.70000000000002" x2="341.6" y2="178.70000000000002" stroke="#aaa" stroke-width="0.5" stroke-linecap="butt"/>
<line x1="342.8" y1="182.48" x2="414" y2="182.48" stroke="#e0e0e0" stroke-width="0.25" stroke-linecap="butt"/>
<line x1="338.6" y1="181.88" x2="341.6" y2="181.88" stroke="#aaa" stroke-width="0.5" stroke-linecap="butt"/>
<line x1="342.8" y1="185.66" x2="414" y2="185.66" stroke="#e0e0e0" stroke-width="0.25" stroke-linecap="butt"/>
<line x1="338.6" y1="185.06" x2="341.6" y2="185.06" stroke="#aaa" stroke-width="0.5" stroke-linecap="butt"/>
<line x1="342.8" y1="188.84" x2="414" y2="188.84" stroke="#e0e0e0" stroke-width="0.25" stroke-linecap="butt"/>
<line x1="338.6" y1="188.24" x2="341.6" y2="188.24" stroke="#aaa" stroke-width="0.5" stroke-linecap="butt"/>
<line x1="342.8" y1="192.01999999999998" x2="414" y2="192.01999999999998" stroke="#e0e0e0" stroke-width="0.25" stroke-linecap="butt"/>
<line x1="338.6" y1="191.42" x2="341.6" y2="191.42" stroke="#aaa" stroke-width="0.5" stroke-linecap="butt"/>
<line x1="354.06666666666666" y1="163.4" x2="354.06666666666666" y2="195.2" stroke="#e2e2e2" stroke-width="0.25" stroke-linecap="butt"/>
<line x1="365.3333333333333" y1="163.4" x2="365.3333333333333" y2="195.2" stroke="#e2e2e2" stroke-width="0.25" stroke-linecap="butt"/>
<line x1="376.6" y1="163.4" x2="376.6" y2="195.2" stroke="#e2e2e2" stroke-width="0.25" stroke-linecap="butt"/>
<line x1="387.8666666666667" y1="163.4" x2="387.8666666666667" y2="195.2" stroke="#e2e2e2" stroke-width="0.25" stroke-linecap="butt"/>
<line x1="399.1333333333333" y1="163.4" x2="399.1333333333333" y2="195.2" stroke="#e2e2e2" stroke-width="0.25" stroke-linecap="butt"/>
<line x1="410.4" y1="163.4" x2="410.4" y2="195.2" stroke="#e2e2e2" stroke-width="0.25" stroke-linecap="butt"/>
<line x1="342.8" y1="190.2" x2="414" y2="190.2" stroke="#aaa" stroke-width="0.3" stroke-linecap="butt"/>
<path d="M342.8 188.8 L346.5 191.7 L349.7 194.7 L351.0 193.9 L351.9 193.0 L353.0 194.3 L354.0 190.1 L355.5 191.1 L356.8 192.1 L358.4 191.1 L359.4 185.9 L360.7 184.9 L362.0 180.7 L364.0 179.4 L365.6 177.5 L367.2 176.8 L368.8 174.0 L370.4 171.0 L372.1 167.1 L373.7 165.4 L376.9 166.2 L378.9 167.8 L384.0 171.7 L389.9 175.5 L391.2 177.9 L396.3 181.6 L397.7 180.6 L403.5 185.3 L405.1 184.1 L407.6 186.1 L410.6 188.4" fill="none" stroke="#20e020" stroke-width="1.15" stroke-linejoin="round" stroke-linecap="round"/>
<line x1="350.7" y1="197.2" x2="350.7" y2="206.10000000000002" stroke="#000" stroke-width="0.44" stroke-linecap="butt"/>
<line x1="353.43" y1="197.2" x2="353.43" y2="206.10000000000002" stroke="#000" stroke-width="0.44" stroke-linecap="butt"/>
<line x1="358.75" y1="197.2" x2="358.75" y2="206.10000000000002" stroke="#000" stroke-width="0.44" stroke-linecap="butt"/>
<line x1="359.96" y1="197.2" x2="359.96" y2="206.10000000000002" stroke="#000" stroke-width="0.44" stroke-linecap="butt"/>
<line x1="361.03" y1="197.2" x2="361.03" y2="206.10000000000002" stroke="#000" stroke-width="0.44" stroke-linecap="butt"/>
<line x1="362.24" y1="197.2" x2="362.24" y2="206.10000000000002" stroke="#000" stroke-width="0.44" stroke-linecap="butt"/>
<line x1="363.31" y1="197.2" x2="363.31" y2="206.10000000000002" stroke="#000" stroke-width="0.44" stroke-linecap="butt"/>
<line x1="364.37" y1="197.2" x2="364.37" y2="206.10000000000002" stroke="#000" stroke-width="0.44" stroke-linecap="butt"/>
<line x1="365.59" y1="197.2" x2="365.59" y2="206.10000000000002" stroke="#000" stroke-width="0.44" stroke-linecap="butt"/>
<line x1="366.8" y1="197.2" x2="366.8" y2="206.10000000000002" stroke="#000" stroke-width="0.44" stroke-linecap="butt"/>
<line x1="367.87" y1="197.2" x2="367.87" y2="206.10000000000002" stroke="#000" stroke-width="0.44" stroke-linecap="butt"/>
<line x1="369.39" y1="197.2" x2="369.39" y2="206.10000000000002" stroke="#000" stroke-width="0.44" stroke-linecap="butt"/>
<line x1="369.84" y1="197.2" x2="369.84" y2="206.10000000000002" stroke="#000" stroke-width="0.44" stroke-linecap="butt"/>
<line x1="370.45" y1="197.2" x2="370.45" y2="206.10000000000002" stroke="#000" stroke-width="0.44" stroke-linecap="butt"/>
<line x1="370.9" y1="197.2" x2="370.9" y2="206.10000000000002" stroke="#000" stroke-width="0.44" stroke-linecap="butt"/>
<line x1="371.36" y1="197.2" x2="371.36" y2="206.10000000000002" stroke="#000" stroke-width="0.44" stroke-linecap="butt"/>
<line x1="371.97" y1="197.2" x2="371.97" y2="206.10000000000002" stroke="#000" stroke-width="0.44" stroke-linecap="butt"/>
<line x1="372.57" y1="197.2" x2="372.57" y2="206.10000000000002" stroke="#000" stroke-width="0.44" stroke-linecap="butt"/>
<line x1="373.03" y1="197.2" x2="373.03" y2="206.10000000000002" stroke="#000" stroke-width="0.44" stroke-linecap="butt"/>
<line x1="373.48" y1="197.2" x2="373.48" y2="206.10000000000002" stroke="#000" stroke-width="0.44" stroke-linecap="butt"/>
<line x1="374.09" y1="197.2" x2="374.09" y2="206.10000000000002" stroke="#000" stroke-width="0.44" stroke-linecap="butt"/>
<line x1="374.7" y1="197.2" x2="374.7" y2="206.10000000000002" stroke="#000" stroke-width="0.44" stroke-linecap="butt"/>
<line x1="375.46" y1="197.2" x2="375.46" y2="206.10000000000002" stroke="#000" stroke-width="0.44" stroke-linecap="butt"/>
<line x1="375.92" y1="197.2" x2="375.92" y2="206.10000000000002" stroke="#000" stroke-width="0.44" stroke-linecap="butt"/>
<line x1="376.53" y1="197.2" x2="376.53" y2="206.10000000000002" stroke="#000" stroke-width="0.44" stroke-linecap="butt"/>
<line x1="377.74" y1="197.2" x2="377.74" y2="206.10000000000002" stroke="#000" stroke-width="0.44" stroke-linecap="butt"/>
<line x1="378.95" y1="197.2" x2="378.95" y2="206.10000000000002" stroke="#000" stroke-width="0.44" stroke-linecap="butt"/>
<line x1="381.53" y1="197.2" x2="381.53" y2="206.10000000000002" stroke="#000" stroke-width="0.44" stroke-linecap="butt"/>
<line x1="382.6" y1="197.2" x2="382.6" y2="206.10000000000002" stroke="#000" stroke-width="0.44" stroke-linecap="butt"/>
<line x1="385.33" y1="197.2" x2="385.33" y2="206.10000000000002" stroke="#000" stroke-width="0.44" stroke-linecap="butt"/>
<line x1="396.73" y1="197.2" x2="396.73" y2="206.10000000000002" stroke="#000" stroke-width="0.44" stroke-linecap="butt"/>
<line x1="404.32" y1="197.2" x2="404.32" y2="206.10000000000002" stroke="#000" stroke-width="0.44" stroke-linecap="butt"/>
<rect x="342.80" y="207.3" width="14.97" height="2.50" fill="#e61c26"/>
<rect x="357.67" y="207.3" width="12.27" height="2.50" fill="#ea4a5c"/>
<rect x="369.84" y="207.3" width="8.21" height="2.50" fill="#f09cc0"/>
<rect x="377.95" y="207.3" width="13.62" height="2.50" fill="#cfc6f2"/>
<rect x="391.47" y="207.3" width="5.51" height="2.50" fill="#9a94f0"/>
<rect x="396.88" y="207.3" width="8.89" height="2.50" fill="#4a3ee0"/>
<rect x="405.67" y="207.3" width="4.83" height="2.50" fill="#1010b4"/>
<text x="343.6" y="213.8" font-size="4.0" text-anchor="start" font-weight="bold" fill="#e01010" textLength="10.4" lengthAdjust="spacingAndGlyphs" stroke="#e01010" stroke-width="0.14" font-style="italic">c-Kit<tspan font-size="2.6" dy="-1.4">lo</tspan></text>
<text x="400.2" y="213.8" font-size="4.0" text-anchor="start" font-weight="bold" fill="#1a78c8" textLength="10.4" lengthAdjust="spacingAndGlyphs" stroke="#1a78c8" stroke-width="0.14" font-style="italic">c-Kit<tspan font-size="2.6" dy="-1.4">hi</tspan></text>
<text x="379.8" y="162" font-size="3.7" text-anchor="middle" font-weight="bold" fill="#000" textLength="31" lengthAdjust="spacingAndGlyphs" stroke="#000" stroke-width="0.14" >KEGG_RIBOSOME</text>
<text x="391.9" y="172.4" font-size="3.8" text-anchor="start" font-weight="bold" fill="#000" textLength="13.4" lengthAdjust="spacingAndGlyphs" stroke="#000" stroke-width="0.14" >NES: 1.47</text>
<rect x="255.4" y="203.2" width="5.6" height="44.100000000000016" fill="#f3f3f3" stroke="none" stroke-width="0"/>
<rect x="261" y="203.6" width="71.30000000000001" height="43.70000000000002" fill="#fff" stroke="#cfcfcf" stroke-width="0.4"/>
<line x1="261" y1="234.4" x2="332.3" y2="234.4" stroke="#c4c4c4" stroke-width="0.4" stroke-linecap="butt"/>
<line x1="261" y1="206.68" x2="332.3" y2="206.68" stroke="#e0e0e0" stroke-width="0.25" stroke-linecap="butt"/>
<line x1="256.8" y1="206.08" x2="259.8" y2="206.08" stroke="#aaa" stroke-width="0.5" stroke-linecap="butt"/>
<line x1="261" y1="209.76" x2="332.3" y2="209.76" stroke="#e0e0e0" stroke-width="0.25" stroke-linecap="butt"/>
<line x1="256.8" y1="209.16" x2="259.8" y2="209.16" stroke="#aaa" stroke-width="0.5" stroke-linecap="butt"/>
<line x1="261" y1="212.84" x2="332.3" y2="212.84" stroke="#e0e0e0" stroke-width="0.25" stroke-linecap="butt"/>
<line x1="256.8" y1="212.24" x2="259.8" y2="212.24" stroke="#aaa" stroke-width="0.5" stroke-linecap="butt"/>
<line x1="261" y1="215.92" x2="332.3" y2="215.92" stroke="#e0e0e0" stroke-width="0.25" stroke-linecap="butt"/>
<line x1="256.8" y1="215.32" x2="259.8" y2="215.32" stroke="#aaa" stroke-width="0.5" stroke-linecap="butt"/>
<line x1="261" y1="219.0" x2="332.3" y2="219.0" stroke="#e0e0e0" stroke-width="0.25" stroke-linecap="butt"/>
<line x1="256.8" y1="218.4" x2="259.8" y2="218.4" stroke="#aaa" stroke-width="0.5" stroke-linecap="butt"/>
<line x1="261" y1="222.08" x2="332.3" y2="222.08" stroke="#e0e0e0" stroke-width="0.25" stroke-linecap="butt"/>
<line x1="256.8" y1="221.48000000000002" x2="259.8" y2="221.48000000000002" stroke="#aaa" stroke-width="0.5" stroke-linecap="butt"/>
<line x1="261" y1="225.16" x2="332.3" y2="225.16" stroke="#e0e0e0" stroke-width="0.25" stroke-linecap="butt"/>
<line x1="256.8" y1="224.56" x2="259.8" y2="224.56" stroke="#aaa" stroke-width="0.5" stroke-linecap="butt"/>
<line x1="261" y1="228.24" x2="332.3" y2="228.24" stroke="#e0e0e0" stroke-width="0.25" stroke-linecap="butt"/>
<line x1="256.8" y1="227.64000000000001" x2="259.8" y2="227.64000000000001" stroke="#aaa" stroke-width="0.5" stroke-linecap="butt"/>
<line x1="261" y1="231.32" x2="332.3" y2="231.32" stroke="#e0e0e0" stroke-width="0.25" stroke-linecap="butt"/>
<line x1="256.8" y1="230.72" x2="259.8" y2="230.72" stroke="#aaa" stroke-width="0.5" stroke-linecap="butt"/>
<line x1="272.3333333333333" y1="203.6" x2="272.3333333333333" y2="234.4" stroke="#e2e2e2" stroke-width="0.25" stroke-linecap="butt"/>
<line x1="283.6666666666667" y1="203.6" x2="283.6666666666667" y2="234.4" stroke="#e2e2e2" stroke-width="0.25" stroke-linecap="butt"/>
<line x1="295.0" y1="203.6" x2="295.0" y2="234.4" stroke="#e2e2e2" stroke-width="0.25" stroke-linecap="butt"/>
<line x1="306.3333333333333" y1="203.6" x2="306.3333333333333" y2="234.4" stroke="#e2e2e2" stroke-width="0.25" stroke-linecap="butt"/>
<line x1="317.6666666666667" y1="203.6" x2="317.6666666666667" y2="234.4" stroke="#e2e2e2" stroke-width="0.25" stroke-linecap="butt"/>
<line x1="329.0" y1="203.6" x2="329.0" y2="234.4" stroke="#e2e2e2" stroke-width="0.25" stroke-linecap="butt"/>
<line x1="261" y1="227.6" x2="332.3" y2="227.6" stroke="#aaa" stroke-width="0.3" stroke-linecap="butt"/>
<path d="M260.8 227.2 L264.5 230.1 L267.7 233.0 L269.4 230.4 L270.3 229.5 L271.0 230.1 L272.0 226.6 L273.5 227.8 L274.8 228.8 L276.4 227.5 L277.4 222.0 L278.7 220.7 L280.3 216.8 L282.0 216.2 L283.6 214.0 L285.2 214.9 L286.8 212.3 L288.4 209.7 L290.4 206.5 L291.9 205.4 L294.7 205.8 L297.8 208.0 L303.0 212.3 L309.4 217.5 L314.6 220.5 L315.9 219.4 L317.8 221.4 L322.4 225.3 L323.9 223.3 L326.3 225.3 L329.1 227.5" fill="none" stroke="#20e020" stroke-width="1.15" stroke-linejoin="round" stroke-linecap="round"/>
<line x1="268.64" y1="235.6" x2="268.64" y2="243.9" stroke="#000" stroke-width="0.44" stroke-linecap="butt"/>
<line x1="271.39" y1="235.6" x2="271.39" y2="243.9" stroke="#000" stroke-width="0.44" stroke-linecap="butt"/>
<line x1="276.28" y1="235.6" x2="276.28" y2="243.9" stroke="#000" stroke-width="0.44" stroke-linecap="butt"/>
<line x1="277.5" y1="235.6" x2="277.5" y2="243.9" stroke="#000" stroke-width="0.44" stroke-linecap="butt"/>
<line x1="278.73" y1="235.6" x2="278.73" y2="243.9" stroke="#000" stroke-width="0.44" stroke-linecap="butt"/>
<line x1="279.8" y1="235.6" x2="279.8" y2="243.9" stroke="#000" stroke-width="0.44" stroke-linecap="butt"/>
<line x1="280.86" y1="235.6" x2="280.86" y2="243.9" stroke="#000" stroke-width="0.44" stroke-linecap="butt"/>
<line x1="282.09" y1="235.6" x2="282.09" y2="243.9" stroke="#000" stroke-width="0.44" stroke-linecap="butt"/>
<line x1="283.15" y1="235.6" x2="283.15" y2="243.9" stroke="#000" stroke-width="0.44" stroke-linecap="butt"/>
<line x1="284.38" y1="235.6" x2="284.38" y2="243.9" stroke="#000" stroke-width="0.44" stroke-linecap="butt"/>
<line x1="285.45" y1="235.6" x2="285.45" y2="243.9" stroke="#000" stroke-width="0.44" stroke-linecap="butt"/>
<line x1="286.98" y1="235.6" x2="286.98" y2="243.9" stroke="#000" stroke-width="0.44" stroke-linecap="butt"/>
<line x1="287.44" y1="235.6" x2="287.44" y2="243.9" stroke="#000" stroke-width="0.44" stroke-linecap="butt"/>
<line x1="287.89" y1="235.6" x2="287.89" y2="243.9" stroke="#000" stroke-width="0.44" stroke-linecap="butt"/>
<line x1="288.35" y1="235.6" x2="288.35" y2="243.9" stroke="#000" stroke-width="0.44" stroke-linecap="butt"/>
<line x1="288.81" y1="235.6" x2="288.81" y2="243.9" stroke="#000" stroke-width="0.44" stroke-linecap="butt"/>
<line x1="289.27" y1="235.6" x2="289.27" y2="243.9" stroke="#000" stroke-width="0.44" stroke-linecap="butt"/>
<line x1="289.73" y1="235.6" x2="289.73" y2="243.9" stroke="#000" stroke-width="0.44" stroke-linecap="butt"/>
<line x1="290.19" y1="235.6" x2="290.19" y2="243.9" stroke="#000" stroke-width="0.44" stroke-linecap="butt"/>
<line x1="290.65" y1="235.6" x2="290.65" y2="243.9" stroke="#000" stroke-width="0.44" stroke-linecap="butt"/>
<line x1="291.1" y1="235.6" x2="291.1" y2="243.9" stroke="#000" stroke-width="0.44" stroke-linecap="butt"/>
<line x1="291.56" y1="235.6" x2="291.56" y2="243.9" stroke="#000" stroke-width="0.44" stroke-linecap="butt"/>
<line x1="292.02" y1="235.6" x2="292.02" y2="243.9" stroke="#000" stroke-width="0.44" stroke-linecap="butt"/>
<line x1="292.48" y1="235.6" x2="292.48" y2="243.9" stroke="#000" stroke-width="0.44" stroke-linecap="butt"/>
<line x1="293.09" y1="235.6" x2="293.09" y2="243.9" stroke="#000" stroke-width="0.44" stroke-linecap="butt"/>
<line x1="293.55" y1="235.6" x2="293.55" y2="243.9" stroke="#000" stroke-width="0.44" stroke-linecap="butt"/>
<line x1="294.62" y1="235.6" x2="294.62" y2="243.9" stroke="#000" stroke-width="0.44" stroke-linecap="butt"/>
<line x1="295.84" y1="235.6" x2="295.84" y2="243.9" stroke="#000" stroke-width="0.44" stroke-linecap="butt"/>
<line x1="296.91" y1="235.6" x2="296.91" y2="243.9" stroke="#000" stroke-width="0.44" stroke-linecap="butt"/>
<line x1="299.51" y1="235.6" x2="299.51" y2="243.9" stroke="#000" stroke-width="0.44" stroke-linecap="butt"/>
<line x1="300.73" y1="235.6" x2="300.73" y2="243.9" stroke="#000" stroke-width="0.44" stroke-linecap="butt"/>
<line x1="303.48" y1="235.6" x2="303.48" y2="243.9" stroke="#000" stroke-width="0.44" stroke-linecap="butt"/>
<line x1="315.25" y1="235.6" x2="315.25" y2="243.9" stroke="#000" stroke-width="0.44" stroke-linecap="butt"/>
<line x1="323.19" y1="235.6" x2="323.19" y2="243.9" stroke="#000" stroke-width="0.44" stroke-linecap="butt"/>
<rect x="261.00" y="245.2" width="15.06" height="2.10" fill="#e61c26"/>
<rect x="275.96" y="245.2" width="12.34" height="2.10" fill="#ea4a5c"/>
<rect x="288.20" y="245.2" width="8.26" height="2.10" fill="#f09cc0"/>
<rect x="296.36" y="245.2" width="13.70" height="2.10" fill="#cfc6f2"/>
<rect x="309.96" y="245.2" width="5.54" height="2.10" fill="#9a94f0"/>
<rect x="315.40" y="245.2" width="8.94" height="2.10" fill="#4a3ee0"/>
<rect x="324.24" y="245.2" width="4.86" height="2.10" fill="#1010b4"/>
<text x="261.8" y="252.2" font-size="4.0" text-anchor="start" font-weight="bold" fill="#e01010" textLength="10.4" lengthAdjust="spacingAndGlyphs" stroke="#e01010" stroke-width="0.14" font-style="italic">c-Kit<tspan font-size="2.6" dy="-1.4">lo</tspan></text>
<text x="318" y="252.2" font-size="4.0" text-anchor="start" font-weight="bold" fill="#1a78c8" textLength="10.4" lengthAdjust="spacingAndGlyphs" stroke="#1a78c8" stroke-width="0.14" font-style="italic">c-Kit<tspan font-size="2.6" dy="-1.4">hi</tspan></text>
<text x="295.4" y="201.4" font-size="3.7" text-anchor="middle" font-weight="bold" fill="#000" textLength="76.8" lengthAdjust="spacingAndGlyphs" stroke="#000" stroke-width="0.14" >REACTOME_PEPTIDE CHAIN ELONGATION</text>
<text x="309.1" y="209.7" font-size="3.8" text-anchor="start" font-weight="bold" fill="#000" textLength="16.2" lengthAdjust="spacingAndGlyphs" stroke="#000" stroke-width="0.14" >NES: 1.42</text>
<text x="420.3" y="136.0" font-size="9.7" text-anchor="start" font-weight="bold" fill="#000" stroke="#000" stroke-width="0.14" >H</text>
<line x1="438.8" y1="144.95" x2="438.8" y2="235.05" stroke="#000" stroke-width="1.1" stroke-linecap="butt"/>
<line x1="435.85" y1="145.5" x2="438.8" y2="145.5" stroke="#000" stroke-width="0.935" stroke-linecap="butt"/>
<text x="435.45000000000005" y="147.048" font-size="4.3" text-anchor="end" font-weight="bold" fill="#000" stroke="#000" stroke-width="0.14" >2.5</text>
<line x1="435.85" y1="163.3" x2="438.8" y2="163.3" stroke="#000" stroke-width="0.935" stroke-linecap="butt"/>
<text x="435.45000000000005" y="164.848" font-size="4.3" text-anchor="end" font-weight="bold" fill="#000" stroke="#000" stroke-width="0.14" >2.0</text>
<line x1="435.85" y1="181.1" x2="438.8" y2="181.1" stroke="#000" stroke-width="0.935" stroke-linecap="butt"/>
<text x="435.45000000000005" y="182.648" font-size="4.3" text-anchor="end" font-weight="bold" fill="#000" stroke="#000" stroke-width="0.14" >1.5</text>
<line x1="435.85" y1="198.9" x2="438.8" y2="198.9" stroke="#000" stroke-width="0.935" stroke-linecap="butt"/>
<text x="435.45000000000005" y="200.448" font-size="4.3" text-anchor="end" font-weight="bold" fill="#000" stroke="#000" stroke-width="0.14" >1.0</text>
<line x1="435.85" y1="216.7" x2="438.8" y2="216.7" stroke="#000" stroke-width="0.935" stroke-linecap="butt"/>
<text x="435.45000000000005" y="218.248" font-size="4.3" text-anchor="end" font-weight="bold" fill="#000" stroke="#000" stroke-width="0.14" >0.5</text>
<line x1="435.85" y1="234.5" x2="438.8" y2="234.5" stroke="#000" stroke-width="0.935" stroke-linecap="butt"/>
<text x="435.45000000000005" y="236.048" font-size="4.3" text-anchor="end" font-weight="bold" fill="#000" stroke="#000" stroke-width="0.14" >0.0</text>
<line x1="436.3" y1="234.4" x2="512.8" y2="234.4" stroke="#000" stroke-width="1.2" stroke-linecap="butt"/>
<line x1="453.75" y1="186.0" x2="453.75" y2="192.5" stroke="#555" stroke-width="0.7" stroke-linecap="butt"/>
<line x1="449.75" y1="186.0" x2="457.75" y2="186.0" stroke="#555" stroke-width="0.7" stroke-linecap="butt"/>
<rect x="446.7" y="193.0" width="14.100000000000023" height="41.5" fill="#000" stroke="#000" stroke-width="1.0"/>
<line x1="476.04999999999995" y1="163.1" x2="476.04999999999995" y2="173" stroke="#555" stroke-width="0.7" stroke-linecap="butt"/>
<line x1="472.04999999999995" y1="163.1" x2="480.04999999999995" y2="163.1" stroke="#555" stroke-width="0.7" stroke-linecap="butt"/>
<rect x="469.2" y="173.5" width="13.699999999999989" height="61.0" fill="#000" stroke="#000" stroke-width="1.0"/>
<line x1="498.25" y1="204.4" x2="498.25" y2="208.7" stroke="#555" stroke-width="0.7" stroke-linecap="butt"/>
<line x1="494.25" y1="204.4" x2="502.25" y2="204.4" stroke="#555" stroke-width="0.7" stroke-linecap="butt"/>
<rect x="491.2" y="209.2" width="14.100000000000023" height="25.30000000000001" fill="#000" stroke="#000" stroke-width="1.0"/>
<path d="M476.2 162.5 L498.2 162.5 L498.2 203.2" fill="none" stroke="#444" stroke-width="0.5"/>
<text x="486.6" y="160.6" font-size="6.4" text-anchor="middle" font-weight="bold" fill="#000" stroke="#000" stroke-width="0.14" >**</text>
<text x="453.4" y="240.2" font-size="3.9" text-anchor="middle" font-weight="bold" fill="#000" textLength="13.2" lengthAdjust="spacingAndGlyphs" stroke="#000" stroke-width="0.14" >LT HSC</text>
<text x="475.4" y="240.2" font-size="3.9" text-anchor="middle" font-weight="bold" fill="#000" textLength="20.3" lengthAdjust="spacingAndGlyphs" stroke="#000" stroke-width="0.14" >c-Kit<tspan font-size="2.3" dy="-1.3">lo</tspan><tspan dy="1.3"> HSC</tspan></text>
<text x="498.3" y="240.2" font-size="3.9" text-anchor="middle" font-weight="bold" fill="#000" textLength="21.3" lengthAdjust="spacingAndGlyphs" stroke="#000" stroke-width="0.14" >c-Kit<tspan font-size="2.3" dy="-1.3">hi</tspan><tspan dy="1.3"> HSC</tspan></text>
<text x="426.4" y="189.8" font-size="5.2" text-anchor="middle" font-weight="normal" fill="#000" textLength="71.8" lengthAdjust="spacingAndGlyphs" transform="rotate(-90 426.4 189.8)" stroke="#000" stroke-width="0.14" >Relative OP-Puro Incorporation</text>
</g>
</svg>
</body></html>
